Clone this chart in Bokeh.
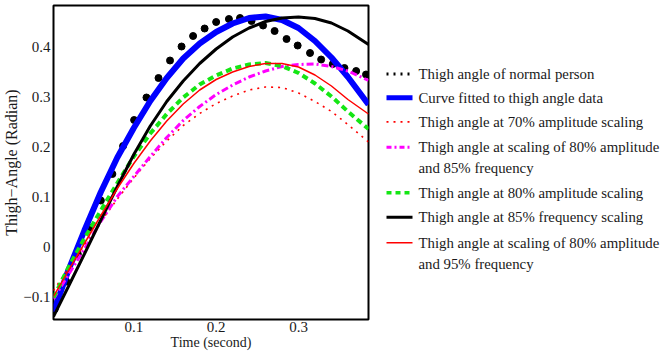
from bokeh.plotting import figure
from bokeh.layouts import row
from bokeh.models import Range1d, FixedTicker
from bokeh.core.properties import value
from bokeh.embed import file_html
from bokeh.resources import INLINE

# ---------------- data ----------------
TIME = [0.0025, 0.02, 0.04, 0.06, 0.08, 0.10, 0.12, 0.14, 0.16, 0.18,
        0.20, 0.22, 0.24, 0.26, 0.28, 0.30, 0.32, 0.34, 0.36, 0.385]

FITTED = [-0.131, -0.050, 0.032, 0.109, 0.178, 0.237, 0.291, 0.337, 0.376, 0.406,
          0.429, 0.446, 0.457, 0.460, 0.453, 0.437, 0.411, 0.378, 0.339, 0.284]
AMP70 = [-0.088, -0.045, 0.003, 0.050, 0.095, 0.137, 0.176, 0.211, 0.242, 0.266,
         0.286, 0.301, 0.313, 0.319, 0.318, 0.307, 0.290, 0.270, 0.244, 0.209]
AMP80_FREQ85 = [-0.105, -0.058, -0.005, 0.050, 0.100, 0.140, 0.180, 0.218, 0.252, 0.280,
                0.304, 0.323, 0.339, 0.351, 0.360, 0.364, 0.365, 0.360, 0.351, 0.332]
AMP80 = [-0.102, -0.044, 0.016, 0.072, 0.127, 0.180, 0.226, 0.265, 0.298, 0.324,
         0.342, 0.356, 0.364, 0.367, 0.361, 0.347, 0.326, 0.300, 0.270, 0.235]
FREQ85 = [-0.140, -0.082, -0.015, 0.053, 0.120, 0.184, 0.241, 0.290, 0.331, 0.366,
          0.395, 0.419, 0.437, 0.450, 0.457, 0.459, 0.456, 0.447, 0.431, 0.404]
AMP80_FREQ95 = [-0.100, -0.050, 0.006, 0.062, 0.116, 0.166, 0.211, 0.251, 0.285, 0.313,
                0.334, 0.349, 0.360, 0.366, 0.366, 0.359, 0.343, 0.321, 0.294, 0.265]

NORMAL_TIME = [0.004, 0.018, 0.032, 0.046, 0.060, 0.074, 0.087, 0.1004, 0.1154, 0.130,
               0.144, 0.158, 0.172, 0.186, 0.200, 0.2155, 0.229, 0.243, 0.257, 0.271,
               0.2855, 0.299, 0.314, 0.3275, 0.3416, 0.3558, 0.370, 0.382]
NORMAL_ANGLE = [-0.125, -0.070, -0.015, 0.038, 0.092, 0.145, 0.201, 0.253, 0.298, 0.337,
                0.372, 0.400, 0.421, 0.436, 0.449, 0.455, 0.457, 0.451, 0.442, 0.431,
                0.415, 0.402, 0.387, 0.374, 0.365, 0.357, 0.351, 0.344]

X_TICKS = [0.1, 0.2, 0.3]
X_TICK_LABELS = ["0.1", "0.2", "0.3"]
Y_TICKS = [-0.1, 0.0, 0.1, 0.2, 0.3, 0.4]
Y_TICK_LABELS = ["\u22120.1", "0", "0.1", "0.2", "0.3", "0.4"]

X_LABEL = "Time (second)"
Y_LABEL = "Thigh\u2212Angle (Radian)"

LEGEND_LABELS = [
    "Thigh angle of normal person",
    "Curve fitted to thigh angle data",
    "Thigh angle at 70% amplitude scaling",
    "Thigh angle at scaling of 80% amplitude\n and 85% frequency",
    "Thigh angle at 80% amplitude scaling",
    "Thigh angle at 85% frequency scaling",
    "Thigh angle at scaling of 80% amplitude\n and 95% frequency",
]

# ---------------- styles / layout ----------------
FONT = "'Liberation Serif', 'Times New Roman', serif"
TXT = "#1a1a1a"
BLACK, BLUE, RED, MAGENTA, GREEN = "#000000", "#0000ff", "#ff0000", "#ff00ff", "#14e614"

p = figure(width=372, height=352,
           x_range=Range1d(0.0025, 0.385), y_range=Range1d(-0.146, 0.482),
           output_backend="svg", toolbar_location=None,
           min_border_left=53, min_border_right=4, min_border_top=5, min_border_bottom=32)
p.background_fill_color = "white"
p.border_fill_color = "white"
p.outline_line_color = "black"
p.outline_line_width = 2
p.grid.visible = False

for ax in (p.xaxis[0], p.yaxis[0]):
    ax.axis_line_color = None
    ax.major_tick_line_color = None
    ax.minor_tick_line_color = None
    ax.major_tick_out = 0
    ax.major_tick_in = 0
    ax.minor_tick_out = 0
    ax.minor_tick_in = 0
    ax.major_label_text_font = FONT
    ax.major_label_text_font_size = "15px"
    ax.major_label_text_color = TXT
    ax.axis_label_text_font = FONT
    ax.axis_label_text_font_style = "normal"
    ax.axis_label_text_color = TXT

p.xaxis[0].ticker = FixedTicker(ticks=X_TICKS)
p.xaxis[0].major_label_overrides = dict(zip(X_TICKS, X_TICK_LABELS))
p.xaxis[0].major_label_standoff = 2
p.xaxis[0].axis_label = X_LABEL
p.xaxis[0].axis_label_text_font_size = "14px"
p.xaxis[0].axis_label_standoff = 0

p.yaxis[0].ticker = FixedTicker(ticks=Y_TICKS)
p.yaxis[0].major_label_overrides = dict(zip(Y_TICKS, Y_TICK_LABELS))
p.yaxis[0].major_label_standoff = 3
p.yaxis[0].axis_label = Y_LABEL
p.yaxis[0].axis_label_text_font_size = "16px"
p.yaxis[0].axis_label_standoff = 0

# curves, in legend order
p.scatter(NORMAL_TIME, NORMAL_ANGLE, size=7, color=BLACK)
p.line(TIME, FITTED, line_color=BLUE, line_width=6)
p.line(TIME, AMP70, line_color=RED, line_width=1.6, line_dash="2 5")
p.line(TIME, AMP80_FREQ85, line_color=MAGENTA, line_width=3, line_dash="7 3 2 3")
p.line(TIME, AMP80, line_color=GREEN, line_width=4, line_dash="6 4")
p.line(TIME, FREQ85, line_color=BLACK, line_width=3)
p.line(TIME, AMP80_FREQ95, line_color=RED, line_width=1.5)

# ---------------- legend panel ----------------
leg = figure(width=295, height=352, x_range=Range1d(0, 295), y_range=Range1d(352, 0),
             output_backend="svg", toolbar_location=None,
             x_axis_location=None, y_axis_location=None,
             min_border=0, min_border_left=0, min_border_right=0,
             min_border_top=0, min_border_bottom=0)
leg.outline_line_color = None
leg.grid.visible = False
leg.background_fill_color = "white"
leg.border_fill_color = "white"

row_y = [76.7, 103.3, 130.5, 159.0, 210.0, 237.3, 266.0]
line_gap = 23.4
styles = [
    dict(line_color=BLACK, line_width=3, line_dash="2 5"),
    dict(line_color=BLUE, line_width=5),
    dict(line_color=RED, line_width=1.6, line_dash="2 5"),
    dict(line_color=MAGENTA, line_width=3, line_dash="5 3 2 3"),
    dict(line_color=GREEN, line_width=3.5, line_dash="5 4"),
    dict(line_color=BLACK, line_width=3),
    dict(line_color=RED, line_width=1.5),
]
tx, ty, tt = [], [], []
for lab, yy, st in zip(LEGEND_LABELS, row_y, styles):
    leg.line([14, 40], [yy, yy], **st)
    for k, part in enumerate(lab.split("\n")):
        tx.append(46)
        ty.append(yy + k * line_gap)
        tt.append(part)
leg.text(x=tx, y=ty, text=tt, text_font=value(FONT), text_font_size="14.8px",
         text_baseline="middle", text_align="left", text_color=TXT)

layout = row(p, leg)
open("out.html", "w").write(file_html(layout, INLINE))
